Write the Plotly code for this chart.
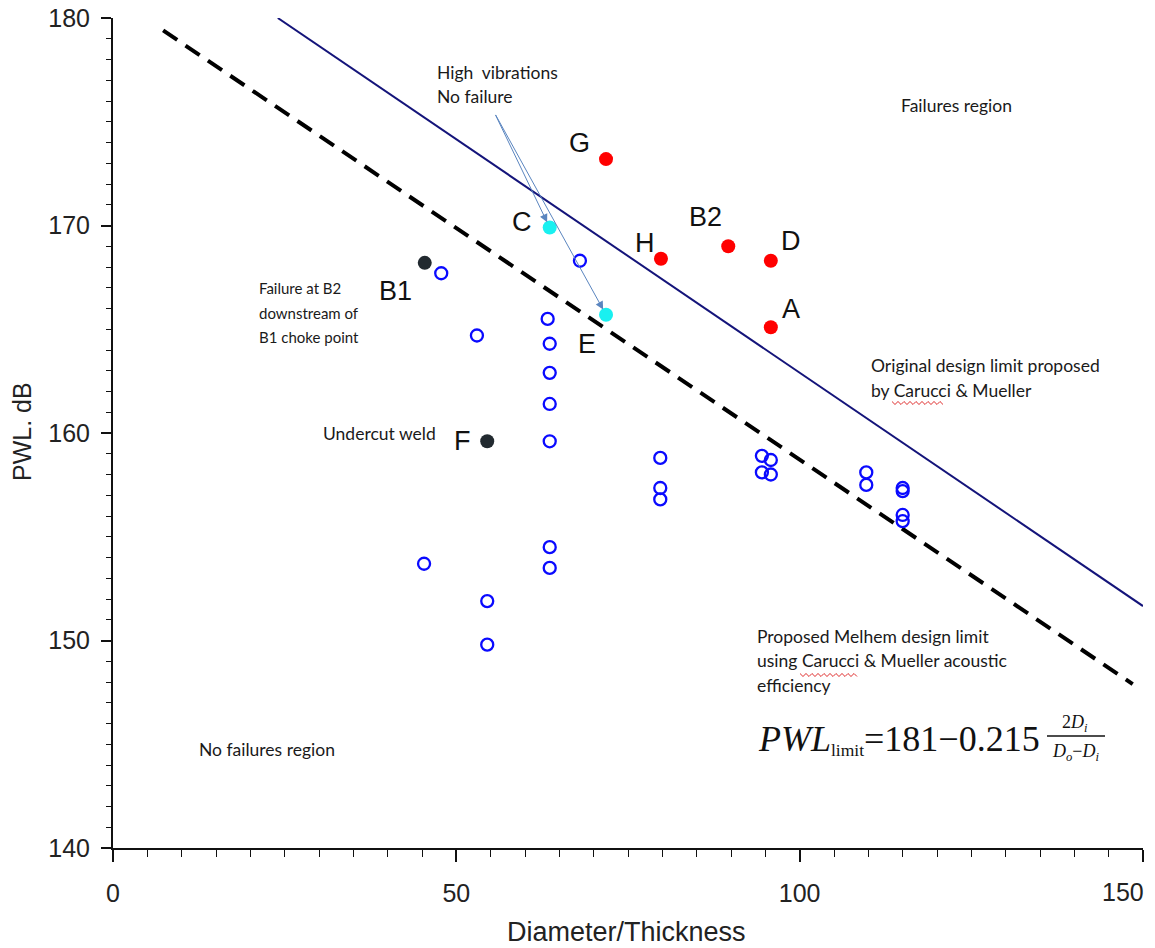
import plotly.graph_objects as go

# ---------------- data ----------------
open_x = [47.8, 53.0, 63.3, 63.6, 63.6, 63.6, 63.6, 63.6, 63.6, 45.3, 54.5, 54.5, 68.0,
          79.7, 79.7, 79.7, 94.5, 95.8, 94.5, 95.8, 109.7, 109.7, 115.0, 115.0, 115.0, 115.0]
open_y = [167.7, 164.7, 165.5, 164.3, 162.9, 161.4, 159.6, 154.5, 153.5, 153.7, 151.9, 149.8, 168.3,
          158.8, 157.35, 156.8, 158.9, 158.7, 158.1, 158.0, 158.1, 157.5, 157.35, 157.2, 156.05, 155.75]

red_labels = ["G", "H", "B2", "D", "A"]
red_x = [71.8, 79.8, 89.6, 95.8, 95.8]
red_y = [173.2, 168.4, 169.0, 168.3, 165.1]

cyan_labels = ["C", "E"]
cyan_x = [63.6, 71.8]
cyan_y = [169.9, 165.7]

black_labels = ["B1", "F"]
black_x = [45.4, 54.5]
black_y = [168.2, 159.6]

orig_limit_x = [24.0, 150.0]
orig_limit_y = [180.0, 151.66]
melhem_limit_x = [7.3, 148.5]
melhem_limit_y = [179.4, 147.9]

x_ticks = [0, 50, 100, 150]
x_ticktext = ["0", "50", "100", "150"]
y_ticks = [140, 150, 160, 170, 180]

# ---------------- figure ----------------
W, H = 1155, 948
L, R, T, B = 113, 12, 18, 100
PW, PH = W - L - R, H - T - B


def px(x):
    return (x - L) / PW


def py(y):
    return (H - B - y) / PH


def squiggle(x0, x1, y, step=3.0, amp=1.5):
    pts = []
    x = x0
    k = 0
    while x <= x1:
        pts.append((px(x), py(y + (amp if k % 2 else -amp))))
        x += step
        k += 1
    d = "M " + " L ".join(f"{a:.5f},{b:.5f}" for a, b in pts)
    return dict(type="path", xref="paper", yref="paper", path=d,
                line=dict(color="#e03030", width=1))


fig = go.Figure()

fig.add_trace(go.Scatter(x=orig_limit_x, y=orig_limit_y, mode="lines",
                         line=dict(color="#14147a", width=2), showlegend=False))
fig.add_trace(go.Scatter(x=melhem_limit_x, y=melhem_limit_y, mode="lines",
                         line=dict(color="black", width=4, dash="17px,10px"), showlegend=False))

fig.add_trace(go.Scatter(x=open_x, y=open_y, mode="markers",
                         marker=dict(symbol="circle-open", size=12, color="#0a0aff",
                                     line=dict(width=2.3, color="#0a0aff")),
                         showlegend=False))
fig.add_trace(go.Scatter(x=red_x, y=red_y, mode="markers",
                         marker=dict(symbol="circle", size=14, color="#ff0000"),
                         showlegend=False))
fig.add_trace(go.Scatter(x=cyan_x, y=cyan_y, mode="markers",
                         marker=dict(symbol="circle", size=14, color="#19f0f0"),
                         showlegend=False))
fig.add_trace(go.Scatter(x=black_x, y=black_y, mode="markers",
                         marker=dict(symbol="circle", size=14, color="#222a30"),
                         showlegend=False))

ann = []
letter_font = dict(family="Liberation Sans, Arial", size=27, color="#111111")
label_offsets = {
    "G": (-27, 16), "H": (-16, 16), "B2": (-23, 29), "D": (20, 20), "A": (20, 18),
    "C": (-28, 6), "E": (-19, -29), "B1": (-29, -28), "F": (-25, 0),
}
for labs, xs, ys in [(red_labels, red_x, red_y), (cyan_labels, cyan_x, cyan_y),
                     (black_labels, black_x, black_y)]:
    for lab, x, y in zip(labs, xs, ys):
        dx, dy = label_offsets[lab]
        ann.append(dict(x=x, y=y, xref="x", yref="y", text=lab, showarrow=False,
                        xshift=dx, yshift=dy, font=letter_font))

# arrows: High vibrations -> C and E
arrow_start = (55.6, 175.4)
for tx, ty in zip(cyan_x, cyan_y):
    ann.append(dict(x=tx, y=ty, xref="x", yref="y", ax=arrow_start[0], ay=arrow_start[1],
                    axref="x", ayref="y", text="", showarrow=True, arrowhead=2,
                    arrowsize=1.6, arrowwidth=1, arrowcolor="#5a85bf", standoff=6))

notes = [
    (["High  vibrations", "No failure"], 435, 72, 17.5),
    (["Failures region"], 899, 105, 17.5),
    (["Failure at B2", "downstream of", "B1 choke point"], 257, 288, 15),
    (["Undercut weld"], 321, 434, 17.5),
    (["Original design limit proposed", "by Carucci &amp; Mueller"], 869, 366, 17.5),
    (["Proposed Melhem design limit", "using Carucci &amp; Mueller acoustic", "efficiency"], 755, 636, 17.5),
    (["No failures region"], 197, 749, 17.5),
]
for lines, x, y0, fs in notes:
    for i, txt in enumerate(lines):
        ann.append(dict(x=px(x), y=py(y0 + 24.5 * i), xref="paper", yref="paper", text=txt,
                        showarrow=False, xanchor="left", yanchor="middle", align="left",
                        font=dict(family="Lato, Open Sans", size=fs, color="#1a1a1a")))

# formula
serif = "Liberation Serif, Times New Roman"
ann.append(dict(x=px(756), y=py(739), xref="paper", yref="paper",
                text="<i>PWL</i><span style='font-size:25px'><sub>limit</sub></span>=181\u22120.215",
                showarrow=False, xanchor="left", yanchor="middle",
                font=dict(family=serif, size=36, color="#111111")))
ann.append(dict(x=px(1075), y=py(723), xref="paper", yref="paper",
                text="2<i>D<sub>i</sub></i>", showarrow=False, xanchor="center", yanchor="middle",
                font=dict(family=serif, size=18, color="#111111")))
ann.append(dict(x=px(1075), y=py(752), xref="paper", yref="paper",
                text="<i>D<sub>o</sub></i>\u2212<i>D<sub>i</sub></i>", showarrow=False,
                xanchor="center", yanchor="middle",
                font=dict(family=serif, size=18, color="#111111")))

# axis titles and the last x tick label (kept inside the page)
axis_font = dict(family="Liberation Sans, Arial", size=25, color="#222222")
ann.append(dict(x=px(626), y=py(932), xref="paper", yref="paper", text="Diameter/Thickness",
                showarrow=False, xanchor="center", yanchor="middle",
                font=dict(family="Liberation Sans, Arial", size=27, color="#222222")))
ann.append(dict(x=px(22), y=py(432), xref="paper", yref="paper", text="PWL. dB",
                showarrow=False, textangle=-90, xanchor="center", yanchor="middle",
                font=axis_font))
ann.append(dict(x=x_ticks[-1], y=0, xref="x", yref="paper", text=x_ticktext[-1],
                showarrow=False, xanchor="right", yanchor="top", xshift=3, yshift=-28,
                font=axis_font))

fig.update_layout(
    width=W, height=H,
    margin=dict(l=L, r=R, t=T, b=B, autoexpand=False),
    paper_bgcolor="white", plot_bgcolor="white",
    annotations=ann,
    shapes=[
        dict(type="line", xref="paper", yref="paper", x0=px(1047), x1=px(1105),
             y0=py(736), y1=py(736), line=dict(color="#111111", width=1.5)),
        squiggle(892, 944, 403),
        squiggle(800, 858, 675),
    ],
)

fig.update_xaxes(range=[0, 150], tickvals=x_ticks, ticktext=x_ticktext[:-1] + [""],
                 automargin=False, showgrid=False, zeroline=False,
                 showline=True, linecolor="#111111", linewidth=2,
                 ticks="outside", ticklen=12, tickwidth=1.5, tickcolor="#111111",
                 ticklabelstandoff=10,
                 tickfont=axis_font,
                 minor=dict(dtick=5, ticks="outside", ticklen=7, tickwidth=1.2,
                            tickcolor="#111111", showgrid=False))
fig.update_yaxes(range=[140, 180], tickvals=y_ticks, automargin=False,
                 showgrid=False, zeroline=False,
                 showline=True, linecolor="#111111", linewidth=2,
                 ticks="outside", ticklen=10, tickwidth=1.5, tickcolor="#111111",
                 ticklabelstandoff=6,
                 tickfont=axis_font,
                 minor=dict(dtick=1, ticks="outside", ticklen=5, tickwidth=1.2,
                            tickcolor="#111111", showgrid=False))

fig.write_html("out.html")
